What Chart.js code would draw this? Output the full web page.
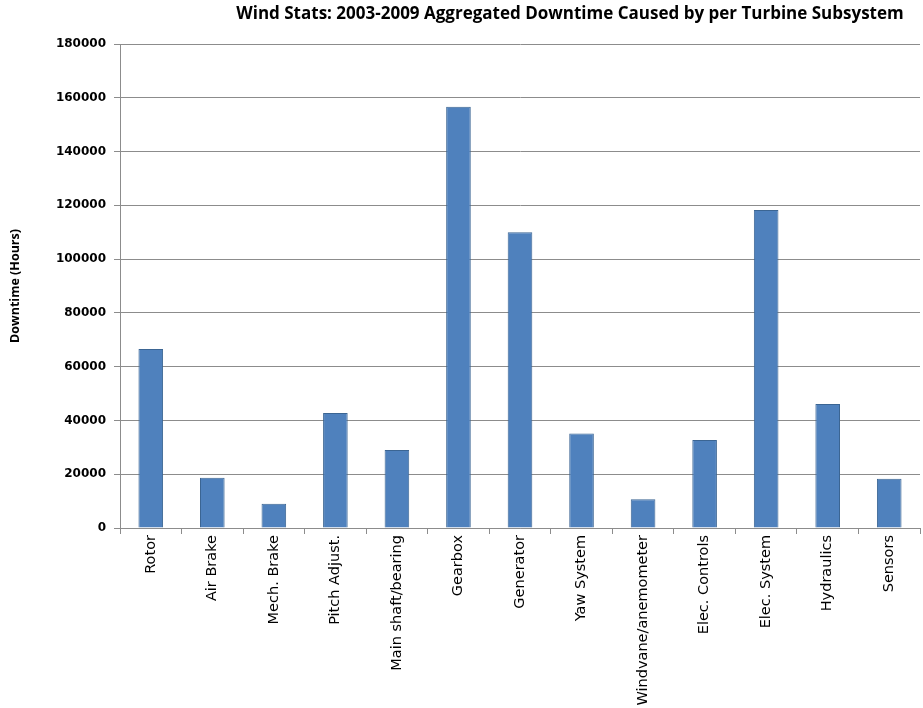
<!DOCTYPE html>
<html lang="en">
<head>
    <meta charset="UTF-8">
    <title>Wind Stats Downtime</title>
    <script src="https://cdn.jsdelivr.net/npm/chart.js"></script>
    <style>
        html, body { margin: 0; padding: 0; background: #fff; }
        #wrap { width: 923px; height: 708px; }
    </style>
</head>
<body>
<div id="wrap"><canvas id="downtimeChart"></canvas></div>

<script>
    // subsystems and aggregated downtime (hours), 2003-2009
    const subsystems = ['Rotor', 'Air Brake', 'Mech. Brake', 'Pitch Adjust.', 'Main shaft/bearing', 'Gearbox',
        'Generator', 'Yaw System', 'Windvane/anemometer', 'Elec. Controls', 'Elec. System', 'Hydraulics', 'Sensors'];
    const downtimeHours = [66600, 18700, 9000, 42800, 29000, 156700, 110000, 35100, 10700, 32700, 118300, 46100, 18300];
    const chartTitle = 'Wind Stats: 2003-2009 Aggregated Downtime Caused by per Turbine Subsystem';

    // title is centred over the plot like the original, drawn after the chart
    const titlePlugin = {
        id: 'centeredTitle',
        afterDraw(chart) {
            const ctx = chart.ctx;
            ctx.save();
            ctx.font = 'bold 17px "Open Sans"';
            ctx.fillStyle = '#000';
            ctx.textAlign = 'center';
            ctx.textBaseline = 'middle';
            ctx.fillText(chartTitle, 570, 14);
            ctx.restore();
        }
    };

    new Chart(document.getElementById('downtimeChart'), {
        type: 'bar',
        data: {
            labels: subsystems,
            datasets: [{
                label: 'Downtime (Hours)',
                data: downtimeHours,
                backgroundColor: '#4F81BD',
                borderColor: '#3B6593',
                borderWidth: 1,
                barPercentage: 0.4,
                categoryPercentage: 1
            }]
        },
        options: {
            responsive: true,
            maintainAspectRatio: false,
            animation: false,
            layout: { padding: { top: 44, right: 3, left: 0, bottom: 0 } },
            plugins: {
                legend: { display: false },
                tooltip: { enabled: false }
            },
            scales: {
                x: {
                    grid: { offset: true, drawOnChartArea: false, tickLength: 6, color: '#8c8c8c' },
                    border: { color: '#8c8c8c' },
                    ticks: {
                        minRotation: 90, maxRotation: 90, autoSkip: false,
                        color: '#000', padding: 1,
                        font: { family: 'DejaVu Sans', size: 14.5 }
                    },
                    afterFit(scale) { scale.height = 180; }
                },
                y: {
                    min: 0, max: 180000,
                    grid: { color: '#8c8c8c', tickLength: 6 },
                    border: { color: '#8c8c8c' },
                    ticks: {
                        stepSize: 20000, color: '#000', padding: 8,
                        font: { family: 'DejaVu Sans', size: 12, weight: 'bold' },
                        callback: v => String(v)
                    },
                    title: {
                        display: true, text: 'Downtime (Hours)', color: '#000',
                        padding: { top: 8, bottom: 0 },
                        font: { family: 'Open Sans', size: 12.5, weight: 'bold' }
                    },
                    afterFit(scale) { scale.width = 120; }
                }
            }
        },
        plugins: [titlePlugin]
    });
</script>
</body>
</html>
